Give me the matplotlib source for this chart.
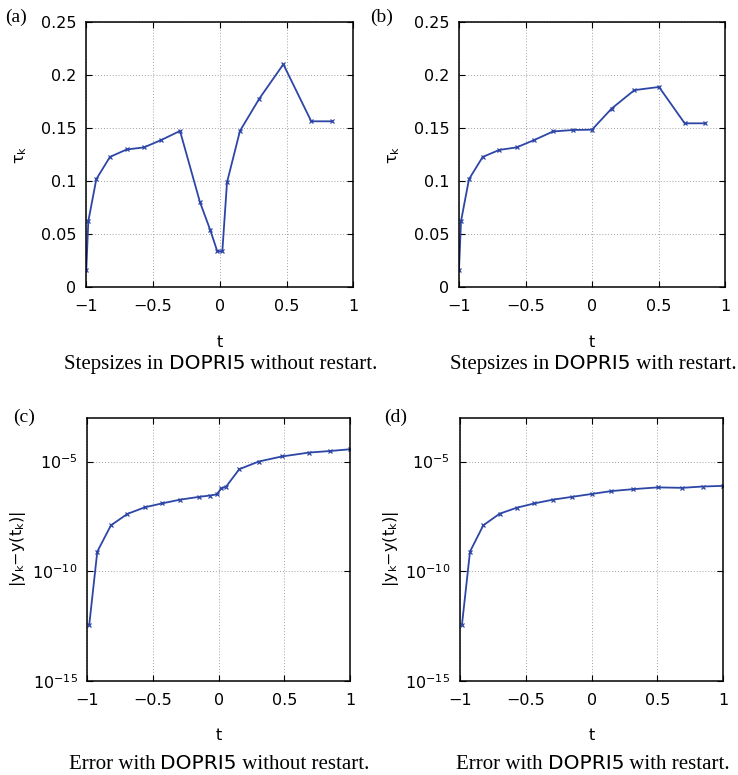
import matplotlib
matplotlib.use("Agg")
import matplotlib.pyplot as plt
import numpy as np

# --- Data --------------------------------------------------------------------
# (a) step sizes, no restart
t_a = [-1.0, -0.985, -0.925, -0.823, -0.698, -0.568, -0.438, -0.298, -0.149,
       -0.071, -0.019, 0.019, 0.054, 0.151, 0.296, 0.476, 0.685, 0.840]
tau_a = [0.0164, 0.0623, 0.102, 0.123, 0.130, 0.132, 0.139, 0.1475, 0.0805,
         0.0538, 0.034, 0.034, 0.099, 0.1475, 0.178, 0.2104, 0.1566, 0.1566]

# (b) step sizes, with restart
t_b = [-1.0, -0.985, -0.925, -0.822, -0.697, -0.567, -0.434, -0.294, -0.146,
       -0.001, 0.146, 0.317, 0.502, 0.695, 0.847]
tau_b = [0.0164, 0.0623, 0.102, 0.123, 0.1296, 0.132, 0.139, 0.147, 0.1484,
         0.1487, 0.1686, 0.186, 0.189, 0.1547, 0.1547]

# (c) error, no restart (log10 of |y_k - y(t_k)|)
t_c = [-0.985, -0.924, -0.820, -0.695, -0.563, -0.431, -0.294, -0.147, -0.066,
       -0.015, 0.020, 0.056, 0.157, 0.305, 0.480, 0.690, 0.848, 1.0]
log_err_c = [-12.44, -9.11, -7.91, -7.39, -7.09, -6.91, -6.74, -6.61, -6.55,
             -6.50, -6.23, -6.15, -5.35, -5.00, -4.77, -4.59, -4.52, -4.44]

# (d) error, with restart
t_d = [-0.985, -0.924, -0.823, -0.699, -0.570, -0.435, -0.294, -0.147, 0.0,
       0.147, 0.316, 0.501, 0.689, 0.843, 1.0]
log_err_d = [-12.44, -9.11, -7.91, -7.38, -7.11, -6.91, -6.74, -6.61, -6.48,
             -6.35, -6.26, -6.18, -6.20, -6.14, -6.11]

x_ticks = [-1, -0.5, 0, 0.5, 1]
x_tick_labels = ["\u22121", "\u22120.5", "0", "0.5", "1"]
tau_ticks = [0, 0.05, 0.1, 0.15, 0.2, 0.25]
tau_tick_labels = ["0", "0.05", "0.1", "0.15", "0.2", "0.25"]
err_ticks = [1e-15, 1e-10, 1e-5]
err_tick_labels = [r"$10^{-15}$", r"$10^{-10}$", r"$10^{-5}$"]

captions = [
    ("Stepsizes in ", "DOPRI5", " without restart."),
    ("Stepsizes in ", "DOPRI5", " with restart."),
    ("Error with ", "DOPRI5", " without restart."),
    ("Error with ", "DOPRI5", " with restart."),
]
panel_tags = ["(a)", "(b)", "(c)", "(d)"]

# --- Style ------------------------------------------------------------------
LINE_BLUE = "#2d46a6"
SANS = "DejaVu Sans"
SERIF = "Liberation Serif"
FS = 11.5

plt.rcParams["font.family"] = [SANS]
plt.rcParams["mathtext.fontset"] = "dejavusans"
plt.rcParams["mathtext.default"] = "regular"

W, H = 738, 775
fig = plt.figure(figsize=(W / 100, H / 100), dpi=100)


def px_axes(left, right, top, bottom):
    """Axes from pixel edges (origin top-left)."""
    return fig.add_axes([left / W, 1 - bottom / H, (right - left) / W,
                         (bottom - top) / H])


def style(ax):
    ax.tick_params(which="both", direction="in", top=True, right=True,
                   length=4, width=0.8, labelsize=FS)
    ax.tick_params(axis="x", pad=8.5)
    ax.tick_params(axis="y", pad=7)
    ax.minorticks_off()
    for sp in ax.spines.values():
        sp.set_linewidth(1.1)
    ax.grid(True, linestyle=(0, (1, 2)), color="#a0a0a0", linewidth=0.7)
    ax.set_xlim(-1, 1)
    ax.set_xticks(x_ticks)
    ax.set_xticklabels(x_tick_labels)
    ax.set_xlabel("t", fontsize=FS)
    ax.xaxis.set_label_coords(0.5, -0.225)
    ax.xaxis.label.set_va("baseline")


ax_a = px_axes(86.3, 353.3, 22.3, 287.3)
ax_b = px_axes(459.0, 725.3, 22.3, 287.3)
ax_c = px_axes(87.3, 350.0, 417.7, 680.7)
ax_d = px_axes(460.0, 723.3, 417.7, 680.7)

for ax, t, tau in [(ax_a, t_a, tau_a), (ax_b, t_b, tau_b)]:
    ax.plot(t, tau, color=LINE_BLUE, linewidth=1.3, marker="x",
            markersize=3, markeredgewidth=0.9)
    style(ax)
    ax.set_ylim(0, 0.25)
    ax.set_yticks(tau_ticks)
    ax.set_yticklabels(tau_tick_labels)
    ax.set_ylabel(r"$\tau_k$", fontsize=FS)
    ax.yaxis.set_label_coords(-0.215, 0.5)

for ax, t, le in [(ax_c, t_c, log_err_c), (ax_d, t_d, log_err_d)]:
    ax.semilogy(t, 10.0 ** np.array(le), color=LINE_BLUE, linewidth=1.3,
                marker="x", markersize=3, markeredgewidth=0.9)
    style(ax)
    ax.set_ylim(1e-15, 1e-3)
    ax.set_yticks(err_ticks)
    ax.set_yticklabels(err_tick_labels)
    ax.minorticks_off()
    ax.set_ylabel(r"$|y_k{-}y(t_k)|$", fontsize=FS)
    ax.yaxis.set_label_coords(-0.225, 0.5)

# panel tags
for tag, (x, y) in zip(panel_tags, [(5, 17), (370, 17), (13, 417), (384, 417)]):
    fig.text(x / W, 1 - y / H, tag, family=SERIF, fontsize=14,
             ha="left", va="center")

# captions: serif text with "DOPRI5" in sans, centred under each axes
renderer = fig.canvas.get_renderer()
cap_anchor = [(221, 369), (593, 369), (219, 769), (593, 769)]
for (pre, mid, post), (cx, base) in zip(captions, cap_anchor):
    parts = [fig.text(0, 0, pre, family=SERIF, fontsize=15, va="baseline"),
             fig.text(0, 0, mid, family=SANS, fontsize=14.5, va="baseline"),
             fig.text(0, 0, post, family=SERIF, fontsize=15, va="baseline")]
    widths = [p.get_window_extent(renderer).width for p in parts]
    x = cx - sum(widths) / 2
    for p, w in zip(parts, widths):
        p.set_position((x / W, 1 - base / H))
        x += w

fig.savefig("out.png", dpi=100)
